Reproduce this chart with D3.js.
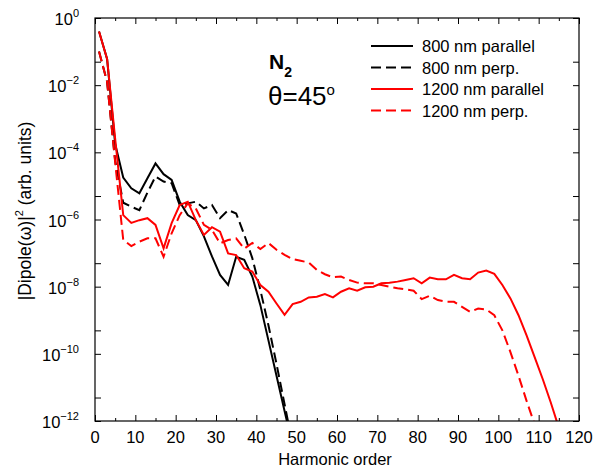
<!DOCTYPE html>
<html><head><meta charset="utf-8">
<script src="https://cdn.jsdelivr.net/npm/d3@7/dist/d3.min.js"></script>
<style>body{margin:0;background:#fff}svg{display:block;font-family:"Liberation Sans",Arial,sans-serif}</style>
</head><body>
<script>
// Harmonic orders (odd)
const harmonicsBlack = d3.range(1, 50, 2);
const harmonicsRed = d3.range(1, 116, 2);
// log10 of |Dipole(w)|^2
const log800par = [-0.4,-1.22,-3.75,-4.75,-5.07,-5.22,-4.77,-4.33,-4.65,-4.82,-5.47,-5.87,-6.02,-6.5,-7.1,-7.65,-7.95,-7.11,-7.2,-7.7,-8.55,-9.6,-10.65,-11.7,-12.75];
const log800perp = [-1.0,-1.9,-4.25,-5.5,-5.62,-5.72,-5.2,-4.72,-4.87,-4.92,-5.57,-5.52,-5.47,-5.67,-5.57,-5.96,-5.72,-5.82,-6.45,-7.15,-8.1,-9.15,-10.3,-11.5,-12.7];
const log1200par = [-0.4,-1.22,-3.6,-5.87,-6.1,-6.02,-5.96,-6.16,-6.86,-6.11,-5.57,-5.47,-6.02,-6.46,-6.23,-6.36,-7.01,-7.06,-7.45,-7.55,-7.95,-8.15,-8.5,-8.84,-8.52,-8.45,-8.32,-8.3,-8.22,-8.32,-8.15,-8.05,-8.12,-8.02,-8.0,-7.9,-7.88,-7.85,-7.8,-7.75,-7.9,-7.73,-7.78,-7.78,-7.65,-7.75,-7.78,-7.58,-7.52,-7.62,-7.95,-8.35,-8.85,-9.45,-10.1,-10.75,-11.45,-12.2];
const log1200perp = [-1.0,-1.9,-4.3,-6.61,-6.79,-6.66,-6.56,-6.56,-7.11,-6.41,-5.87,-5.52,-5.67,-6.16,-6.31,-6.71,-6.61,-6.56,-6.87,-6.7,-6.88,-6.7,-6.9,-7.05,-7.18,-7.23,-7.28,-7.5,-7.63,-7.72,-7.7,-7.8,-7.88,-7.9,-7.9,-7.95,-8.0,-8.05,-8.08,-8.12,-8.37,-8.27,-8.4,-8.45,-8.45,-8.6,-8.75,-8.65,-8.68,-8.85,-9.3,-9.95,-10.65,-11.4,-12.1];
const seriesNames = ["800 nm parallel","800 nm perp.","1200 nm parallel","1200 nm perp."];
const xTicks = d3.range(0, 121, 10);
const xMinorTicks = d3.range(5, 120, 10);
const yExponents = [0,-2,-4,-6,-8,-10,-12];
const yMinorTicks = [5e-2,5e-4,5e-6,5e-8,5e-10,5e-12];

const W = 607, H = 468;
const L = 95, R = 579, T = 18, B = 421;
const FS = 16.5;
const svg = d3.select("body").append("svg").attr("width", W).attr("height", H);
const x = d3.scaleLinear().domain([0,120]).range([L,R]);
const y = d3.scaleLog().domain([1e-12,1]).range([B,T]);

svg.append("clipPath").attr("id","clip").append("rect").attr("x",L).attr("y",T).attr("width",R-L).attr("height",B-T);

const series = [
  {h: harmonicsBlack, v: log800par, color:"#000", dash:null},
  {h: harmonicsBlack, v: log800perp, color:"#000", dash:"10,5"},
  {h: harmonicsRed, v: log1200par, color:"#ff0000", dash:null},
  {h: harmonicsRed, v: log1200perp, color:"#ff0000", dash:"10,5"}
];
const line = d3.line().x(d=>x(d[0])).y(d=>y(Math.pow(10,d[1])));
const drawOrder = [1,0,3,2];
drawOrder.forEach(i=>{
  const s = series[i];
  svg.append("path").attr("clip-path","url(#clip)")
    .datum(s.h.map((h,j)=>[h,s.v[j]]))
    .attr("d",line).attr("fill","none").attr("stroke",s.color)
    .attr("stroke-width",2).attr("stroke-dasharray",s.dash);
});

// axes ticks (inward)
function ax(gen, tx, ty){ const g=svg.append("g").attr("transform",`translate(${tx},${ty})`).call(gen); g.select(".domain").remove(); g.selectAll("text").remove(); g.selectAll("line").attr("stroke","#000").attr("stroke-width",1); }
ax(d3.axisBottom(x).tickValues(xTicks).tickSize(-6), 0, B);
ax(d3.axisBottom(x).tickValues(xMinorTicks).tickSize(-3), 0, B);
ax(d3.axisTop(x).tickValues(xTicks).tickSize(-6), 0, T);
ax(d3.axisTop(x).tickValues(xMinorTicks).tickSize(-3), 0, T);
const yMaj = yExponents.map(e=>Math.pow(10,e));
ax(d3.axisLeft(y).tickValues(yMaj).tickSize(-6), L, 0);
ax(d3.axisLeft(y).tickValues(yMinorTicks).tickSize(-6), L, 0);
ax(d3.axisRight(y).tickValues(yMaj).tickSize(-6), R, 0);
ax(d3.axisRight(y).tickValues(yMinorTicks).tickSize(-6), R, 0);
svg.append("rect").attr("x",L).attr("y",T).attr("width",R-L).attr("height",B-T).attr("fill","none").attr("stroke","#000").attr("stroke-width",1.2);

// tick labels
svg.append("g").selectAll("text").data(xTicks).join("text")
  .attr("x",d=>x(d)).attr("y",443).attr("text-anchor","middle").attr("font-size",FS).text(d=>d);
const yl = svg.append("g").selectAll("text").data(yExponents).join("text")
  .attr("x",79).attr("y",e=>y(Math.pow(10,e))+7).attr("text-anchor","end").attr("font-size",FS);
yl.append("tspan").text("10");
yl.append("tspan").attr("font-size",11).attr("dy",-8).text(e=> e===0 ? "0" : "\u2212"+(-e));

// axis titles
svg.append("text").attr("x",335).attr("y",465).attr("text-anchor","middle").attr("font-size",FS).text("Harmonic order");
const yt = svg.append("text").attr("transform","translate(31,211) rotate(-90)").attr("text-anchor","middle").attr("font-size",17.5);
yt.append("tspan").text("|Dipole(\u03c9)|");
yt.append("tspan").attr("font-size",11).attr("dy",-8).text("2");
yt.append("tspan").attr("dy",8).text(" (arb. units)");

// annotation
const n2 = svg.append("text").attr("x",269).attr("y",69).attr("font-size",21).attr("font-weight","bold");
n2.append("tspan").text("N");
n2.append("tspan").attr("font-size",14).attr("dy",8).text("2");
const th = svg.append("text").attr("x",268).attr("y",105).attr("font-size",26);
th.append("tspan").text("\u03b8=45");
th.append("tspan").attr("font-size",15).attr("dy",-10).text("o");

// legend
const legY = [46, 67.5, 89, 110.5];
series.forEach((s,i)=>{
  svg.append("line").attr("x1",371).attr("x2",413).attr("y1",legY[i]).attr("y2",legY[i])
    .attr("stroke",s.color).attr("stroke-width",2).attr("stroke-dasharray",s.dash);
  svg.append("text").attr("x",422).attr("y",legY[i]+6).attr("font-size",FS).text(seriesNames[i]);
});
</script>
</body></html>
